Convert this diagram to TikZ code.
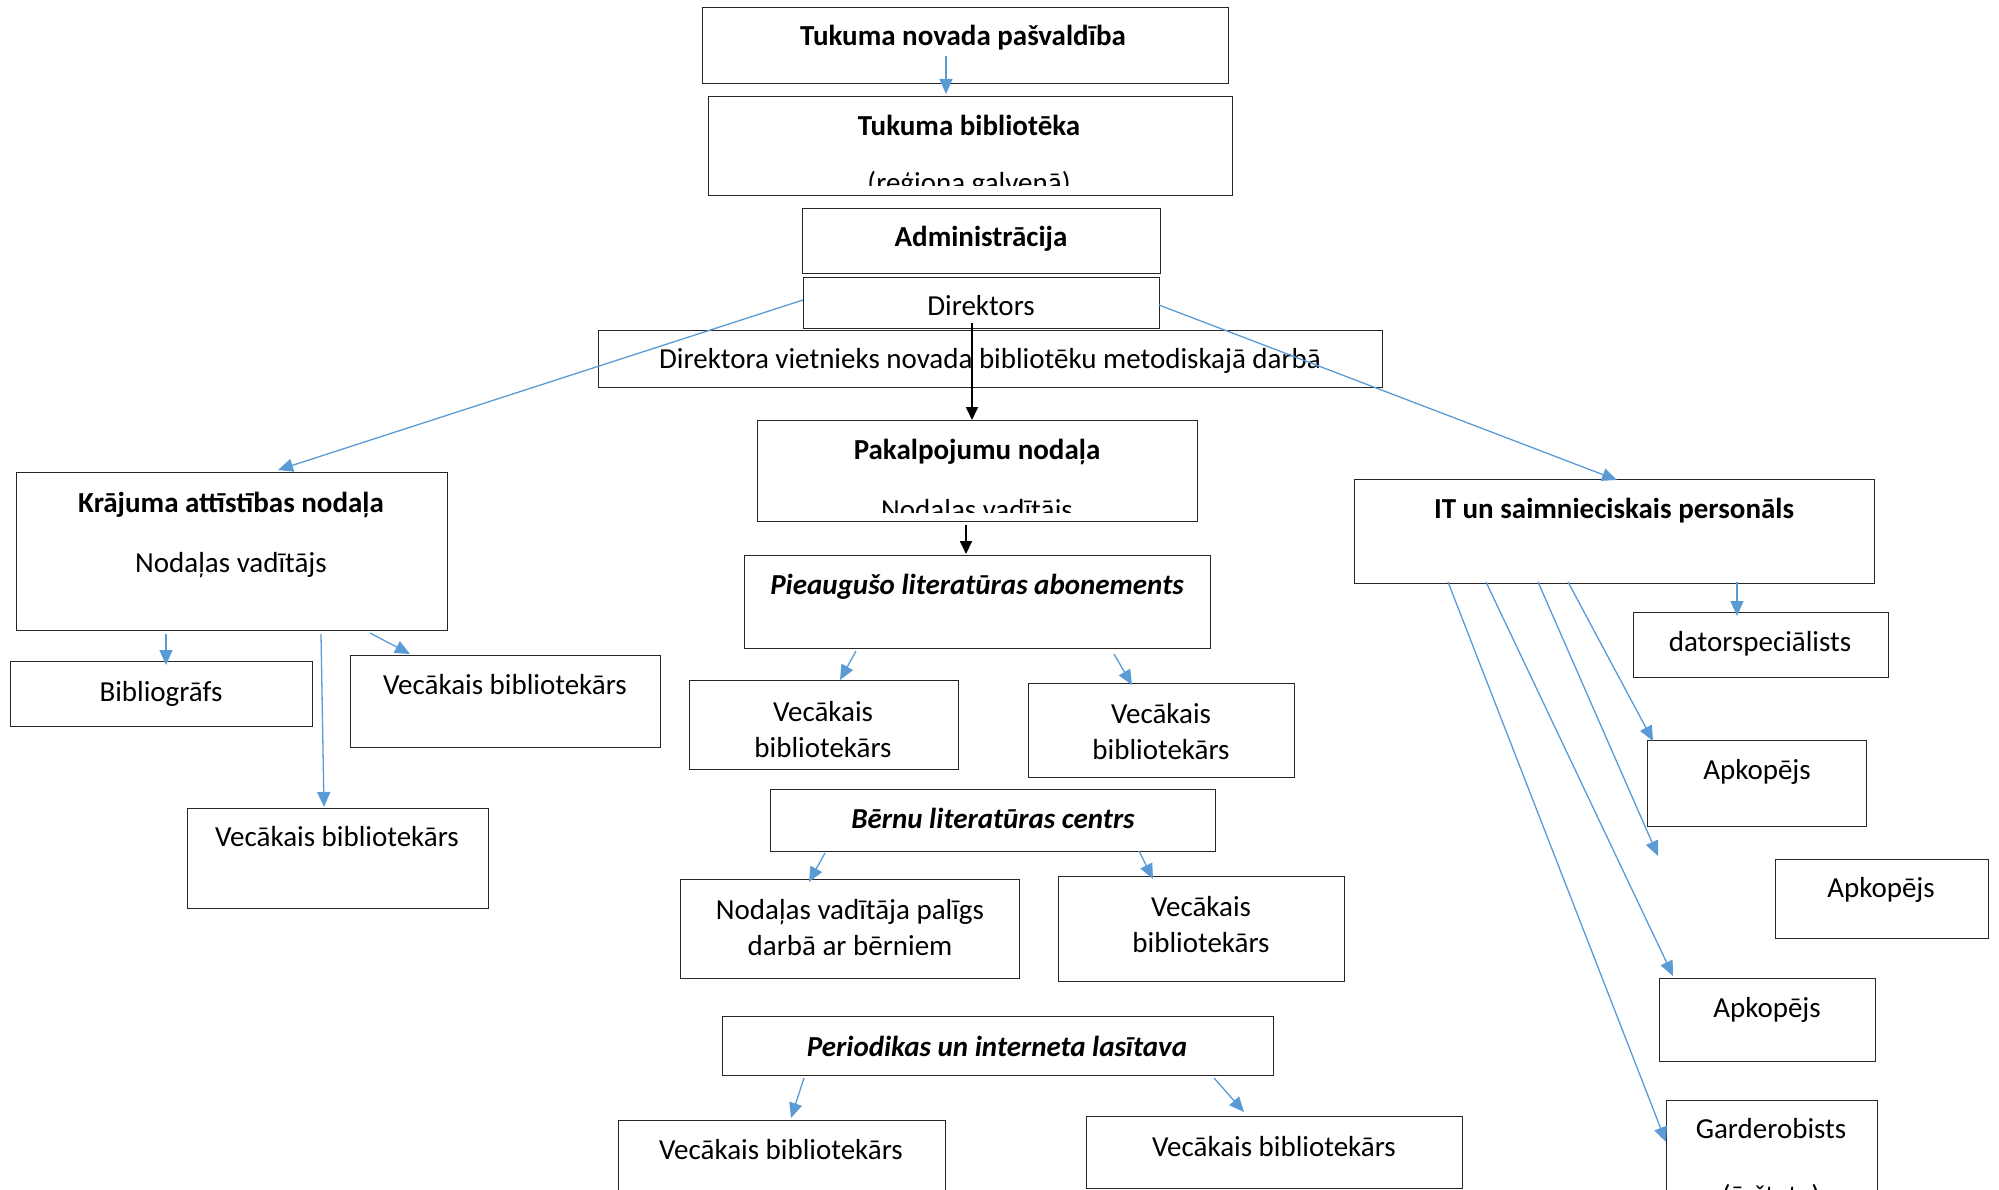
\documentclass[tikz,border=0pt]{standalone}
\usepackage{fontspec}
\setmainfont{Carlito}
\usetikzlibrary{arrows.meta}
\definecolor{arrblue}{RGB}{91,155,213}
\tikzset{
  box/.style={draw=black!85, line width=1.4pt, fill=white, rectangle, inner sep=0pt, anchor=north west},
  txt/.style={font=\fontsize{29}{36}\selectfont, inner sep=0pt, anchor=base, align=center},
  ttl/.style={txt, font=\fontsize{29}{36}\selectfont\bfseries},
  ttli/.style={txt, font=\fontsize{29}{36}\selectfont\bfseries\itshape},
  two/.style={txt},
  barrow/.style={draw=arrblue, line width=1.3pt, -{Triangle[length=15pt,width=13pt]}},
  karrow/.style={draw=black, line width=1.8pt, -{Triangle[length=13pt,width=12pt]}}
}
\begin{document}
\begin{tikzpicture}[x=1pt,y=-1pt]
\useasboundingbox (0,0) rectangle (1999,1190);
\clip (0,0) rectangle (1999,1190);
\fill[white] (0,0) rectangle (1999,1190);
% ---------- boxes ----------
\node[box, minimum width=526pt, minimum height=76pt] (pasv) at (702,7) {};
\node[box, minimum width=524pt, minimum height=99pt] (bibl) at (708,96) {};
\node[box, minimum width=358pt, minimum height=65pt] (admin) at (802,208) {};
\node[box, minimum width=356pt, minimum height=51pt] (dir) at (803,277) {};
\node[box, minimum width=784pt, minimum height=57pt] (viet) at (598,330) {};
\node[box, minimum width=440pt, minimum height=101pt] (pak) at (757,420) {};
\node[box, minimum width=466pt, minimum height=93pt] (piea) at (744,555) {};
\node[box, minimum width=269pt, minimum height=89pt] (pv1) at (689,680) {};
\node[box, minimum width=266pt, minimum height=94pt] (pv2) at (1028,683) {};
\node[box, minimum width=445pt, minimum height=62pt] (bernu) at (770,789) {};
\node[box, minimum width=339pt, minimum height=99pt] (bn1) at (680,879) {};
\node[box, minimum width=286pt, minimum height=105pt] (bn2) at (1058,876) {};
\node[box, minimum width=551pt, minimum height=59pt] (per) at (722,1016) {};
\node[box, minimum width=327pt, minimum height=100pt] (pr1) at (618,1120) {};
\node[box, minimum width=376pt, minimum height=72pt] (pr2) at (1086,1116) {};
\node[box, minimum width=431pt, minimum height=158pt] (kraj) at (16,472) {};
\node[box, minimum width=302pt, minimum height=65pt] (bibg) at (10,661) {};
\node[box, minimum width=310pt, minimum height=92pt] (kv1) at (350,655) {};
\node[box, minimum width=301pt, minimum height=100pt] (kv2) at (187,808) {};
\node[box, minimum width=520pt, minimum height=104pt] (it) at (1354,479) {};
\node[box, minimum width=255pt, minimum height=65pt] (dator) at (1633,612) {};
\node[box, minimum width=219pt, minimum height=86pt] (ap1) at (1647,740) {};
\node[box, minimum width=213pt, minimum height=79pt] (ap2) at (1775,859) {};
\node[box, minimum width=216pt, minimum height=83pt] (ap3) at (1659,978) {};
\node[box, minimum width=211pt, minimum height=110pt] (gard) at (1666,1100) {};
% ---------- texts ----------
\node[ttl] (tpasv) at (963,46) {Tukuma novada pašvaldība};
\node[ttl] (tbibl) at (969,136) {Tukuma bibliotēka};
\begin{scope}
  \clip (708,96) rectangle (1232,186);
  \node[txt] (tbibl2) at (969,193) {(reģiona galvenā)};
\end{scope}
\node[ttl] (tadmin) at (981,247) {Administrācija};
\node[txt] (tdir) at (981,316) {Direktors};
\node[txt] (tviet) at (990,368) {Direktora vietnieks novada bibliotēku metodiskajā darbā};
\node[ttl] (tpak) at (977,459) {Pakalpojumu nodaļa};
\begin{scope}
  \clip (757,420) rectangle (1197,512);
  \node[txt] (tpak2) at (977,519) {Nodaļas vadītājs};
\end{scope}
\node[ttli] (tpiea) at (977,594) {Pieaugušo literatūras abonements};
\node[two] (tpv1) at (823,757) {Vecākais\\bibliotekārs};
\node[two] (tpv2) at (1161,759) {Vecākais\\bibliotekārs};
\node[ttli] (tbernu) at (993,828) {Bērnu literatūras centrs};
\node[two] (tbn1) at (850,955) {Nodaļas vadītāja palīgs\\darbā ar bērniem};
\node[two] (tbn2) at (1201,952) {Vecākais\\bibliotekārs};
\node[ttli] (tper) at (997,1056) {Periodikas un interneta lasītava};
\node[txt] (tpr1) at (781,1159) {Vecākais bibliotekārs};
\node[txt] (tpr2) at (1274,1156) {Vecākais bibliotekārs};
\node[ttl] (tkraj) at (231,512) {Krājuma attīstības nodaļa};
\node[txt] (tkraj2) at (231,572) {Nodaļas vadītājs};
\node[txt] (tbibg) at (161,701) {Bibliogrāfs};
\node[txt] (tkv1) at (505,694) {Vecākais bibliotekārs};
\node[txt] (tkv2) at (337,846) {Vecākais bibliotekārs};
\node[ttl] (tit) at (1614,518) {IT un saimnieciskais personāls};
\node[txt] (tdator) at (1760,651) {datorspeciālists};
\node[txt] (tap1) at (1757,779) {Apkopējs};
\node[txt] (tap2) at (1881,897) {Apkopējs};
\node[txt] (tap3) at (1767,1017) {Apkopējs};
\node[txt] (tgard) at (1771,1138) {Garderobists};
\node[txt] (tgard2) at (1771,1205) {(ārštata)};
% ---------- connectors ----------
\coordinate (loose) at (1658,856);
\draw[barrow] ([shift={(244,49)}]pasv.north west) -- ([shift={(238,-2)}]bibl.north west);
\draw[barrow] ([shift={(0,23)}]dir.north west) -- ([shift={(262,-2)}]kraj.north west);
\draw[barrow] ([shift={(356,28)}]dir.north west) -- ([shift={(263,1)}]it.north west);
\draw[karrow] ([shift={(169,46)}]dir.north west) -- ([shift={(215,0)}]pak.north west);
\draw[karrow] ([shift={(209,105)}]pak.north west) -- ([shift={(222,-1)}]piea.north west);
\draw[barrow] ([shift={(150,162)}]kraj.north west) -- ([shift={(156,4)}]bibg.north west);
\draw[barrow] ([shift={(354,161)}]kraj.north west) -- ([shift={(60,-1)}]kv1.north west);
\draw[barrow] ([shift={(305,162)}]kraj.north west) -- ([shift={(137,-1)}]kv2.north west);
\draw[barrow] ([shift={(112,96)}]piea.north west) -- ([shift={(151,0)}]pv1.north west);
\draw[barrow] ([shift={(370,99)}]piea.north west) -- ([shift={(104,2)}]pv2.north west);
\draw[barrow] ([shift={(55,64)}]bernu.north west) -- ([shift={(129,3)}]bn1.north west);
\draw[barrow] ([shift={(369,62)}]bernu.north west) -- ([shift={(95,3)}]bn2.north west);
\draw[barrow] ([shift={(82,62)}]per.north west) -- ([shift={(173,-2)}]pr1.north west);
\draw[barrow] ([shift={(492,62)}]per.north west) -- ([shift={(158,-4)}]pr2.north west);
\draw[barrow] ([shift={(383,103)}]it.north west) -- ([shift={(104,4)}]dator.north west);
\draw[barrow] ([shift={(214,103)}]it.north west) -- ([shift={(6,1)}]ap1.north west);
\draw[barrow] ([shift={(184,103)}]it.north west) -- (loose);
\draw[barrow] ([shift={(132,103)}]it.north west) -- ([shift={(14,-2)}]ap3.north west);
\draw[barrow] ([shift={(94,103)}]it.north west) -- ([shift={(0,42)}]gard.north west);
\end{tikzpicture}
\end{document}
